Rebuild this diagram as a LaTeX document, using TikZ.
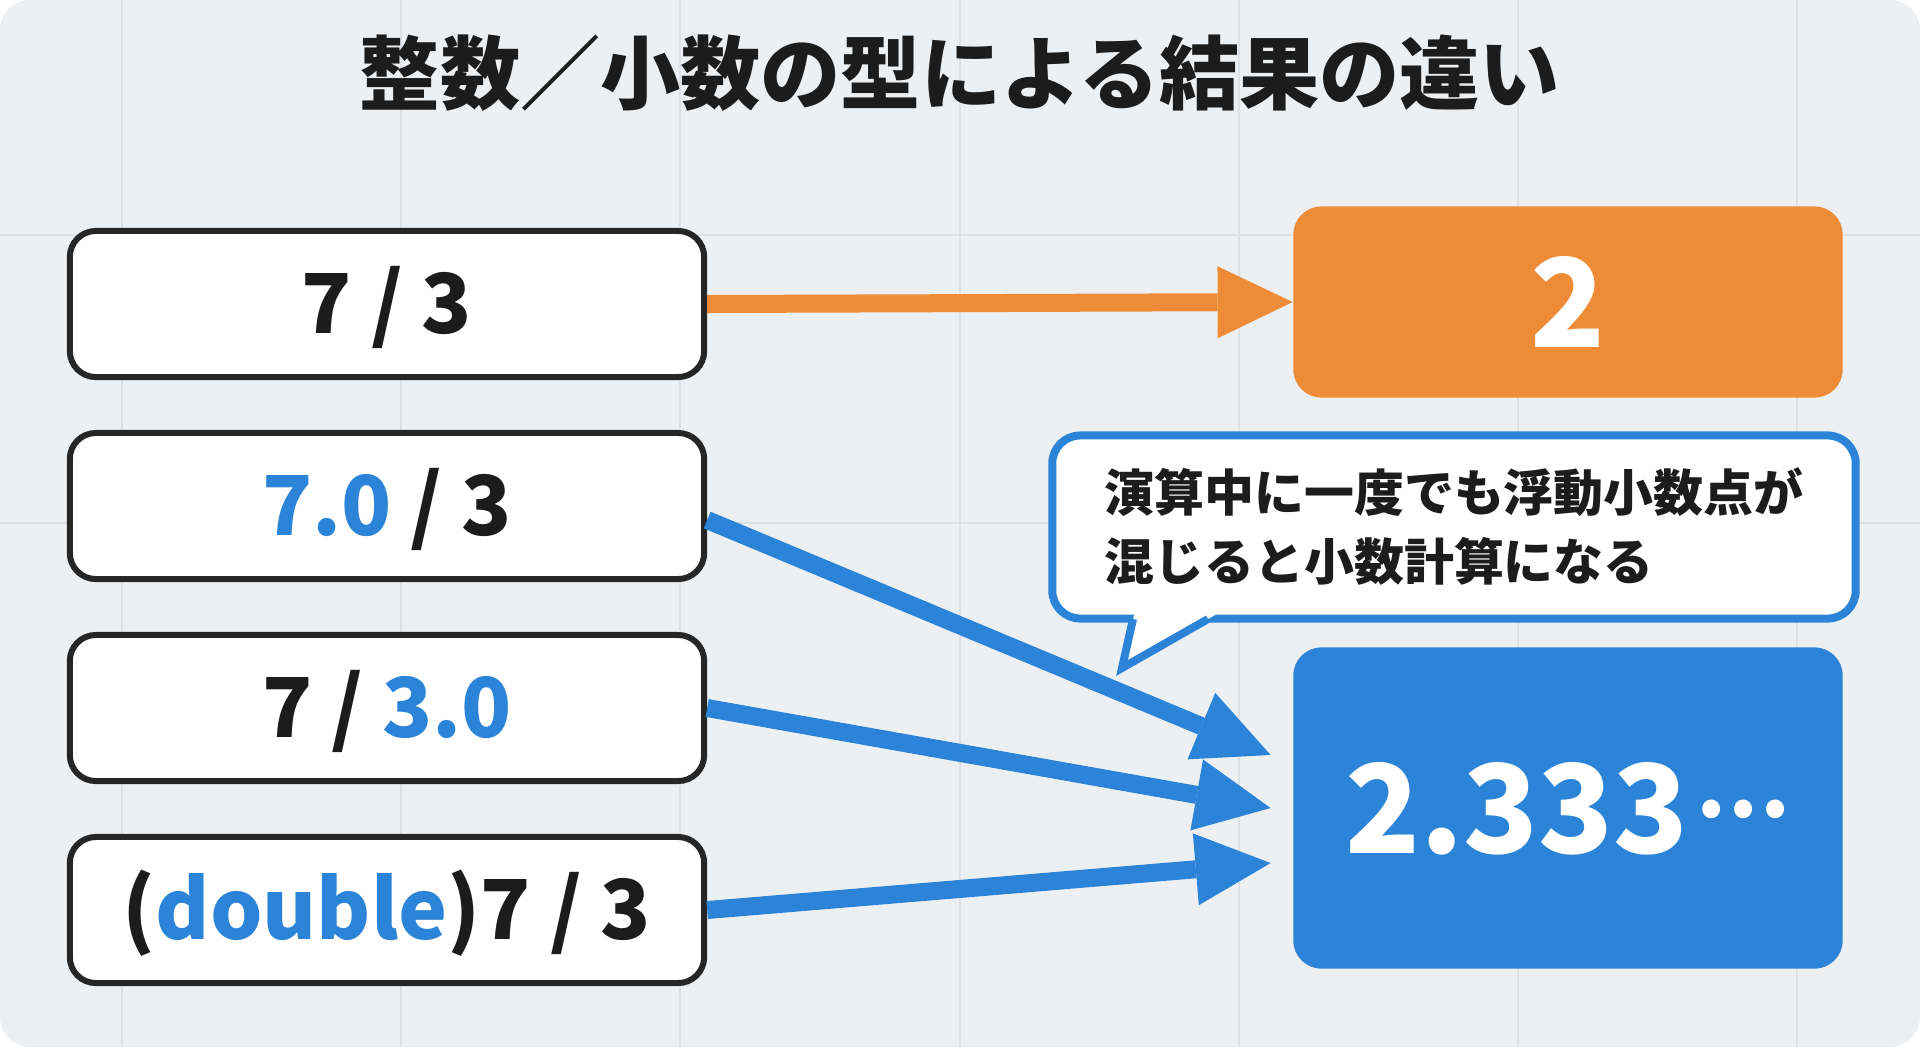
\documentclass[tikz,border=0pt]{standalone}
\usepackage{fontspec}
\setmainfont{Noto Sans CJK JP}
\usepackage{xcolor}
\usetikzlibrary{arrows.meta}
\definecolor{bgcol}{HTML}{EDF0F2}
\definecolor{gridcol}{HTML}{DDE1E5}
\definecolor{boxline}{HTML}{262626}
\definecolor{orng}{HTML}{EE8B36}
\definecolor{blu}{HTML}{2B84D8}
\definecolor{txt}{HTML}{1C1C1C}

\begin{document}
\begin{tikzpicture}[x=0.01cm,y=-0.01cm,
    expr/.style={draw=boxline,line width=0.06cm,fill=white,rounded corners=0.26cm,
      minimum width=6.34cm,minimum height=1.46cm,text height=0.58cm,text depth=0pt,
      font=\fontsize{23.5}{26}\selectfont\bfseries,text=txt},
    res/.style={rounded corners=0.28cm,minimum width=5.49cm,text=white,
      font=\fontsize{35}{40}\selectfont\bfseries},
    flow/.style={line width=0.18cm,-{Triangle[length=0.75cm,width=0.72cm,line width=0pt]}}]
    % background and grid
    \fill[white] (0,0) rectangle (1920,1047);
    \fill[bgcol,rounded corners=0.3cm] (0,0) rectangle (1920,1047);
    \useasboundingbox (0,0) rectangle (1920,1047);
    \foreach \x in {122,401,680,960,1239,1518,1797}
        \draw[gridcol,line width=0.02cm] (\x,0) -- (\x,1047);
    \foreach \y in {235,523}
        \draw[gridcol,line width=0.02cm] (0,\y) -- (1920,\y);

    \node[font=\fontsize{22.8}{26}\selectfont\bfseries,text=txt] (title) at (960,73) {整数／小数の型による結果の違い};

    % expressions
    \node[expr] (b1) at (387,304) {7 / 3};
    \node[expr] (b2) at (387,506) {\textcolor{blu}{7.0} / 3};
    \node[expr] (b3) at (387,708) {7 / \textcolor{blu}{3.0}};
    \node[expr] (b4) at (387,910) {(\textcolor{blu}{double})7 / 3};

    % results
    \node[res,fill=orng,minimum height=1.91cm] (two) at (1568,302) {2};
    \node[res,fill=blu,minimum height=3.21cm,text height=0.9cm,text depth=0pt] (dec) at (1568,808)
      {2.333\hspace{2pt}\raisebox{10pt}{\fontsize{24}{28}\selectfont …}};

    \draw[flow,orng] (b1.east) -- (two.west);
    \draw[flow,blu] ([yshift=-0.14cm]b2.east) -- ([xshift=-0.22cm,yshift=0.53cm]dec.west);
    \draw[flow,blu] (b3.east) -- ([xshift=-0.22cm]dec.west);
    \draw[flow,blu] (b4.east) -- ([xshift=-0.22cm,yshift=-0.55cm]dec.west);

    % callout
    \node[draw=blu,line width=0.08cm,fill=white,rounded corners=0.28cm,minimum width=8.03cm,
      minimum height=1.83cm,align=left,font=\fontsize{14.2}{19.6}\selectfont\bfseries,text=txt]
      (note) at (1454,527) {演算中に一度でも浮動小数点が\\混じると小数計算になる};
    \fill[white] (1135,611) -- (1122,668) -- (1222,611) -- cycle;
    \draw[blu,line width=0.08cm,line join=miter] (1133,619) -- (1122,668) -- (1208,619);
\end{tikzpicture}
\end{document}
